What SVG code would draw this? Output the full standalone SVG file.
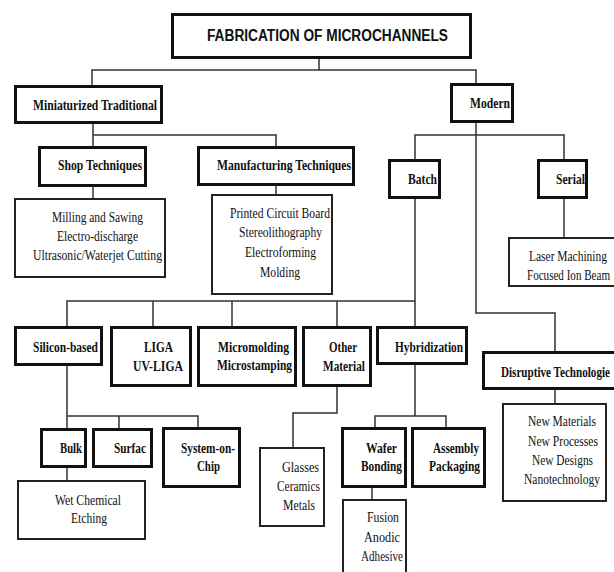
<svg xmlns="http://www.w3.org/2000/svg" width="614" height="572" viewBox="0 0 614 572">
<style>
.h{fill:#fff;stroke:#111;stroke-width:3}
.l{fill:#fff;stroke:#222;stroke-width:2}
.c{fill:none;stroke:#333;stroke-width:1.5}
.ht{font-family:"Liberation Serif","Times New Roman",serif;font-weight:bold;font-size:14px;fill:#111}
.lt{font-family:"Liberation Serif","Times New Roman",serif;font-size:14px;fill:#111}
.tt{font-family:"Liberation Sans",Arial,sans-serif;font-weight:bold;font-size:16px;fill:#111}
</style>
<rect width="614" height="572" fill="#fff"/>
<g id="connectors" class="c">
<path d="M319,59V70M92,85V70H476V83"/>
<path d="M93,124V146M93,135H276V146"/>
<path d="M93,187V198"/>
<path d="M276,186V194"/>
<path d="M476,123V313H555V351"/>
<path d="M415,159V135H564V159"/>
<path d="M415,199V326"/>
<path d="M67,326V301H415M153,301V326M232,301V326M337,301V326"/>
<path d="M564,199V237"/>
<path d="M555,390V403"/>
<path d="M67,366V428M67,416H198V427M119,416V428"/>
<path d="M67,468V480"/>
<path d="M337,387V413H293V447"/>
<path d="M415,365V416M375,427V416H446V427"/>
<path d="M372,488V499"/>
</g>
<g id="title"><rect class="h" x="172.5" y="14.5" width="298" height="43"/><text class="tt" x="207" y="41" textLength="241" lengthAdjust="spacingAndGlyphs">FABRICATION OF MICROCHANNELS</text></g>
<g id="miniaturized"><rect class="h" x="15.5" y="86.5" width="146" height="36"/><text class="ht" x="33" y="110" textLength="124" lengthAdjust="spacingAndGlyphs">Miniaturized Traditional</text></g>
<g id="modern"><rect class="h" x="451.5" y="84.5" width="61" height="37"/><text class="ht" x="470" y="108" textLength="40" lengthAdjust="spacingAndGlyphs">Modern</text></g>
<g id="shop"><rect class="h" x="39.5" y="147.5" width="106" height="38"/><text class="ht" x="58" y="170" textLength="84" lengthAdjust="spacingAndGlyphs">Shop Techniques</text></g>
<g id="manufacturing"><rect class="h" x="198.5" y="147.5" width="155" height="37"/><text class="ht" x="217" y="170" textLength="134" lengthAdjust="spacingAndGlyphs">Manufacturing Techniques</text></g>
<g id="batch"><rect class="h" x="389.5" y="160.5" width="50" height="37"/><text class="ht" x="408" y="184" textLength="29" lengthAdjust="spacingAndGlyphs">Batch</text></g>
<g id="serial"><rect class="h" x="538.5" y="160.5" width="48" height="37"/><text class="ht" x="556" y="184" textLength="29" lengthAdjust="spacingAndGlyphs">Serial</text></g>
<g id="shop-list"><rect class="l" x="15" y="199" width="150" height="78"/>
<text class="lt" x="52" y="222" textLength="91" lengthAdjust="spacingAndGlyphs">Milling and Sawing</text>
<text class="lt" x="57" y="241" textLength="81" lengthAdjust="spacingAndGlyphs">Electro-discharge</text>
<text class="lt" x="33" y="260" textLength="129" lengthAdjust="spacingAndGlyphs">Ultrasonic/Waterjet Cutting</text></g>
<g id="manufacturing-list"><rect class="l" x="212" y="195" width="120" height="99"/>
<text class="lt" x="230" y="218" textLength="100" lengthAdjust="spacingAndGlyphs">Printed Circuit Board</text>
<text class="lt" x="239" y="237" textLength="83" lengthAdjust="spacingAndGlyphs">Stereolithography</text>
<text class="lt" x="245" y="257" textLength="71" lengthAdjust="spacingAndGlyphs">Electroforming</text>
<text class="lt" x="260" y="277" textLength="40" lengthAdjust="spacingAndGlyphs">Molding</text></g>
<g id="serial-list"><rect class="l" x="509" y="238" width="120" height="48"/>
<text class="lt" x="529" y="261" textLength="78" lengthAdjust="spacingAndGlyphs">Laser Machining</text>
<text class="lt" x="527" y="280" textLength="83" lengthAdjust="spacingAndGlyphs">Focused Ion Beam</text></g>
<g id="silicon"><rect class="h" x="15.5" y="327.5" width="86" height="37"/><text class="ht" x="33" y="352" textLength="65" lengthAdjust="spacingAndGlyphs">Silicon-based</text></g>
<g id="liga"><rect class="h" x="111.5" y="327.5" width="79" height="58"/>
<text class="ht" x="144" y="352" textLength="29" lengthAdjust="spacingAndGlyphs">LIGA</text>
<text class="ht" x="133" y="371" textLength="50" lengthAdjust="spacingAndGlyphs">UV-LIGA</text></g>
<g id="micromolding"><rect class="h" x="198.5" y="327.5" width="97" height="58"/>
<text class="ht" x="218" y="352" textLength="71" lengthAdjust="spacingAndGlyphs">Micromolding</text>
<text class="ht" x="217" y="370" textLength="75" lengthAdjust="spacingAndGlyphs">Microstamping</text></g>
<g id="other-material"><rect class="h" x="303.5" y="327.5" width="67" height="58"/>
<text class="ht" x="329" y="352" textLength="28" lengthAdjust="spacingAndGlyphs">Other</text>
<text class="ht" x="323" y="371" textLength="42" lengthAdjust="spacingAndGlyphs">Material</text></g>
<g id="hybridization"><rect class="h" x="377.5" y="327.5" width="89" height="36"/><text class="ht" x="395" y="352" textLength="68" lengthAdjust="spacingAndGlyphs">Hybridization</text></g>
<g id="disruptive"><rect class="h" x="483.5" y="352.5" width="140" height="36"/><text class="ht" x="501" y="377" textLength="109" lengthAdjust="spacingAndGlyphs">Disruptive Technologie</text></g>
<g id="disruptive-list"><rect class="l" x="503" y="404" width="103" height="97"/>
<text class="lt" x="528" y="426" textLength="68" lengthAdjust="spacingAndGlyphs">New Materials</text>
<text class="lt" x="528" y="446" textLength="70" lengthAdjust="spacingAndGlyphs">New Processes</text>
<text class="lt" x="532" y="465" textLength="61" lengthAdjust="spacingAndGlyphs">New Designs</text>
<text class="lt" x="524" y="484" textLength="76" lengthAdjust="spacingAndGlyphs">Nanotechnology</text></g>
<g id="bulk"><rect class="h" x="41.5" y="429.5" width="44" height="37"/><text class="ht" x="60" y="453" textLength="22" lengthAdjust="spacingAndGlyphs">Bulk</text></g>
<g id="surfac"><rect class="h" x="93.5" y="429.5" width="58" height="37"/><text class="ht" x="114" y="453" textLength="32" lengthAdjust="spacingAndGlyphs">Surfac</text></g>
<g id="system-on-chip"><rect class="h" x="163.5" y="428.5" width="76" height="58"/>
<text class="ht" x="181" y="453" textLength="54" lengthAdjust="spacingAndGlyphs">System-on-</text>
<text class="ht" x="197" y="471" textLength="23" lengthAdjust="spacingAndGlyphs">Chip</text></g>
<g id="bulk-list"><rect class="l" x="18" y="481" width="127" height="58"/>
<text class="lt" x="55" y="505" textLength="66" lengthAdjust="spacingAndGlyphs">Wet Chemical</text>
<text class="lt" x="71" y="523" textLength="36" lengthAdjust="spacingAndGlyphs">Etching</text></g>
<g id="other-list"><rect class="l" x="260" y="448" width="64" height="78"/>
<text class="lt" x="282" y="472" textLength="37" lengthAdjust="spacingAndGlyphs">Glasses</text>
<text class="lt" x="277" y="491" textLength="43" lengthAdjust="spacingAndGlyphs">Ceramics</text>
<text class="lt" x="283" y="510" textLength="32" lengthAdjust="spacingAndGlyphs">Metals</text></g>
<g id="wafer-bonding"><rect class="h" x="342.5" y="428.5" width="63" height="58"/>
<text class="ht" x="366" y="453" textLength="31" lengthAdjust="spacingAndGlyphs">Wafer</text>
<text class="ht" x="361" y="471" textLength="41" lengthAdjust="spacingAndGlyphs">Bonding</text></g>
<g id="assembly-packaging"><rect class="h" x="412.5" y="428.5" width="72" height="58"/>
<text class="ht" x="433" y="453" textLength="46" lengthAdjust="spacingAndGlyphs">Assembly</text>
<text class="ht" x="429" y="471" textLength="51" lengthAdjust="spacingAndGlyphs">Packaging</text></g>
<g id="wafer-list"><rect class="l" x="343" y="500" width="63" height="80"/>
<text class="lt" x="367" y="522" textLength="32" lengthAdjust="spacingAndGlyphs">Fusion</text>
<text class="lt" x="364" y="542" textLength="36" lengthAdjust="spacingAndGlyphs">Anodic</text>
<text class="lt" x="361" y="561" textLength="42" lengthAdjust="spacingAndGlyphs">Adhesive</text></g>
</svg>
